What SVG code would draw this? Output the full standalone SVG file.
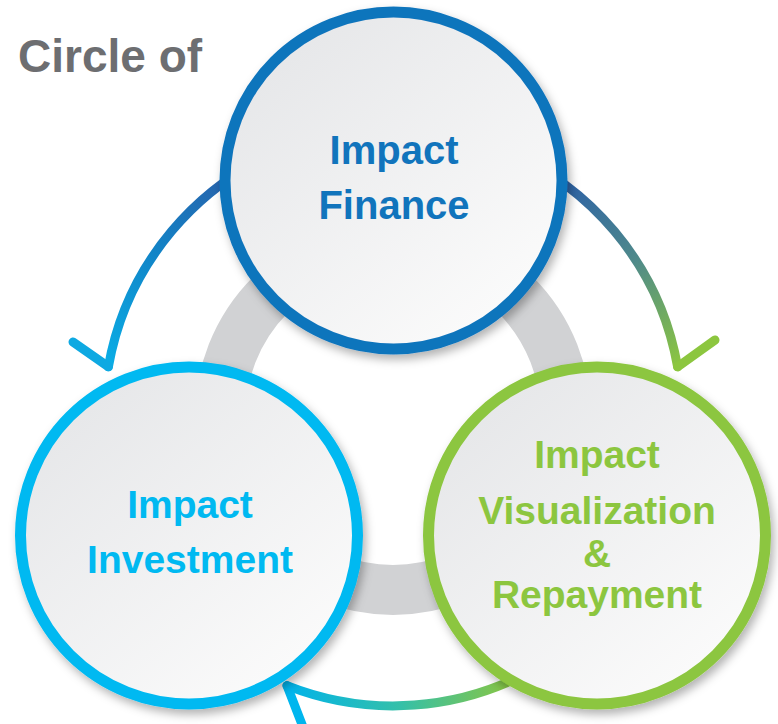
<svg xmlns="http://www.w3.org/2000/svg" width="778" height="724" viewBox="0 0 778 724">
  <style>
    .lbl { font-family: "Liberation Sans", Arial, sans-serif; font-weight: bold; text-anchor: middle; }
    .node-circle { fill: url(#fillGrad); stroke-width: 11; filter: url(#shadow); }
    .arc { fill: none; stroke-width: 9; stroke-linecap: round; }
  </style>
  <defs>
    <linearGradient id="fillGrad" x1="0.15" y1="0.1" x2="0.85" y2="0.9">
      <stop offset="0" stop-color="#e6e7e9"/>
      <stop offset="1" stop-color="#fbfbfb"/>
    </linearGradient>
    <filter id="shadow" x="-20%" y="-20%" width="140%" height="140%">
      <feDropShadow dx="3" dy="5" stdDeviation="5" flood-color="#000" flood-opacity="0.3"/>
    </filter>
    <linearGradient id="gLeft" gradientUnits="userSpaceOnUse" x1="240" y1="170" x2="108" y2="367">
      <stop offset="0" stop-color="#2a5ea8"/>
      <stop offset="0.5" stop-color="#1185c8"/>
      <stop offset="1" stop-color="#0aaee6"/>
    </linearGradient>
    <linearGradient id="gRight" gradientUnits="userSpaceOnUse" x1="560" y1="175" x2="678" y2="367">
      <stop offset="0" stop-color="#2a5ea8"/>
      <stop offset="0.5" stop-color="#4f8a8a"/>
      <stop offset="1" stop-color="#8cc63f"/>
    </linearGradient>
    <linearGradient id="gBottom" gradientUnits="userSpaceOnUse" x1="515" y1="685" x2="287" y2="685">
      <stop offset="0" stop-color="#8cc63f"/>
      <stop offset="0.5" stop-color="#35c0a8"/>
      <stop offset="1" stop-color="#00b3ea"/>
    </linearGradient>
  </defs>

  <rect width="778" height="724" fill="#ffffff"/>

  <text class="lbl" x="18" y="72" style="text-anchor:start; font-size:46px; fill:#6d6e71;">Circle of</text>

  <circle cx="393" cy="417" r="173" fill="none" stroke="#d1d2d4" stroke-width="50"/>

  <g id="connectors">
    <path class="arc" stroke="url(#gLeft)" d="M 294.2 145.4 A 289 289 0 0 0 108.4 366.8"/>
    <path class="arc" stroke="#0ea9e2" d="M 108.4 366.8 L 73 342"/>
    <path class="arc" stroke="url(#gRight)" d="M 491.8 145.4 A 289 289 0 0 1 677.6 366.8"/>
    <path class="arc" stroke="#8cc63f" d="M 677.6 366.8 L 715 340"/>
    <path class="arc" stroke="url(#gBottom)" d="M 537.5 667.3 A 289 289 0 0 1 287 685.6"/>
    <path class="arc" stroke="#00b6ee" d="M 287 685.6 L 303 727"/>
  </g>

  <g id="node-finance">
    <circle class="node-circle" cx="393.5" cy="180.5" r="168.5" stroke="#1174bc"/>
    <text class="lbl" x="394" y="164" style="font-size:40px; fill:#1174bc;">Impact</text>
    <text class="lbl" x="394" y="219" style="font-size:40px; fill:#1174bc;">Finance</text>
  </g>

  <g id="node-investment">
    <circle class="node-circle" cx="189" cy="535.5" r="168.5" stroke="#00b9f1"/>
    <text class="lbl" x="190" y="518" style="font-size:39px; fill:#00b9f1;">Impact</text>
    <text class="lbl" x="190" y="573" style="font-size:39px; fill:#00b9f1;">Investment</text>
  </g>

  <g id="node-visualization">
    <circle class="node-circle" cx="597" cy="535.5" r="168.5" stroke="#8cc63f"/>
    <text class="lbl" x="597" y="468" style="font-size:39px; fill:#8cc63f;">Impact</text>
    <text class="lbl" x="597" y="524" style="font-size:39px; fill:#8cc63f;">Visualization</text>
    <text class="lbl" x="597" y="567" style="font-size:39px; fill:#8cc63f;">&amp;</text>
    <text class="lbl" x="597" y="608" style="font-size:39px; fill:#8cc63f;">Repayment</text>
  </g>
</svg>
